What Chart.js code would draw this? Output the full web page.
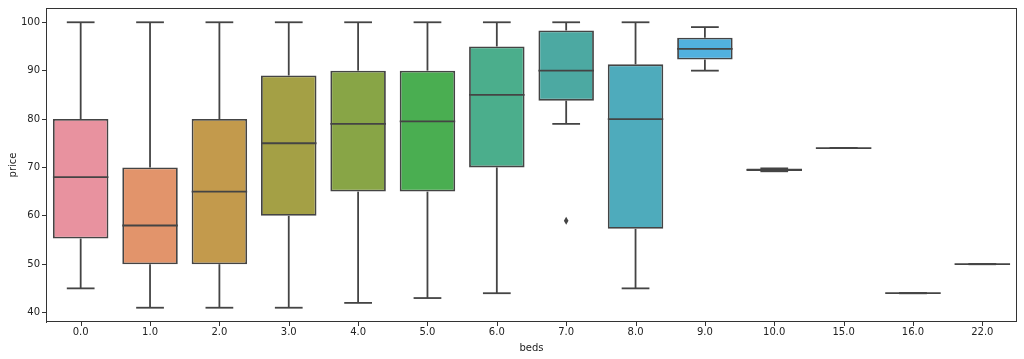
<!DOCTYPE html>
<html>
<head>
<meta charset="utf-8">
<script src="https://cdn.jsdelivr.net/npm/chart.js@4"></script>
<style>
  html, body { margin: 0; padding: 0; background: #fff; }
  #wrap { width: 1024px; height: 359px; }
</style>
</head>
<body>
<div id="wrap"><canvas id="boxChart"></canvas></div>
<script>
// box plot data
const beds = ['0.0', '1.0', '2.0', '3.0', '4.0', '5.0', '6.0', '7.0', '8.0', '9.0', '10.0', '15.0', '16.0', '22.0'];
const whiskerLow  = [45, 41, 41, 41, 42, 43, 44, 79, 45, 90, 69.2, 74, 44, 50];
const q1          = [55.3, 50, 50, 60, 65, 65, 70, 83.8, 57.3, 92.3, 69.25, 74, 44, 50];
const median      = [68, 58, 65, 75, 79, 79.5, 85, 90, 80, 94.5, 69.5, 74, 44, 50];
const q3          = [80, 70, 80, 89, 90, 90, 95, 98.3, 91.3, 96.8, 69.8, 74, 44, 50];
const whiskerHigh = [100, 100, 100, 100, 100, 100, 100, 100, 100, 99, 69.8, 74, 44, 50];
const outliers    = [[], [], [], [], [], [], [], [59], [], [], [], [], [], []];
const yTicks = [40, 50, 60, 70, 80, 90, 100];

const boxColors = ['#e8929f', '#e2946b', '#c39a4c', '#a4a045', '#88a546', '#4aae51', '#4bae8c',
  '#4ca9a2', '#4eabbc', '#51b1df', '#8e9fe6', '#b596e6', '#dc8ee0', '#e891c3'];
const lineColor = '#444';

const boxPlot = {
  id: 'boxPlot',
  afterDatasetsDraw(chart) {
    const ctx = chart.ctx;
    const x = chart.scales.x, y = chart.scales.y;
    const meta = chart.getDatasetMeta(0);
    const a = chart.chartArea;
    ctx.save();
    ctx.strokeStyle = lineColor;
    ctx.lineWidth = 1.8;
    const line = (x1, y1, x2, y2) => {
      ctx.beginPath(); ctx.moveTo(x1, y1); ctx.lineTo(x2, y2); ctx.stroke();
    };
    beds.forEach((b, i) => {
      const bar = meta.data[i];
      const cx = x.getPixelForValue(i);
      const half = bar.width / 2;
      // whiskers
      line(cx, y.getPixelForValue(q1[i]), cx, y.getPixelForValue(whiskerLow[i]));
      line(cx, y.getPixelForValue(q3[i]), cx, y.getPixelForValue(whiskerHigh[i]));
      // caps
      line(cx - half / 2, y.getPixelForValue(whiskerLow[i]), cx + half / 2, y.getPixelForValue(whiskerLow[i]));
      line(cx - half / 2, y.getPixelForValue(whiskerHigh[i]), cx + half / 2, y.getPixelForValue(whiskerHigh[i]));
      // median
      line(cx - half, y.getPixelForValue(median[i]), cx + half, y.getPixelForValue(median[i]));
      // outliers (thin diamonds)
      outliers[i].forEach(v => {
        const py = y.getPixelForValue(v);
        ctx.beginPath();
        ctx.moveTo(cx, py - 4); ctx.lineTo(cx + 2.3, py); ctx.lineTo(cx, py + 4); ctx.lineTo(cx - 2.3, py);
        ctx.closePath();
        ctx.fillStyle = lineColor;
        ctx.fill();
      });
    });
    // frame + x tick marks
    ctx.strokeStyle = '#333';
    ctx.lineWidth = 1;
    ctx.strokeRect(Math.round(a.left) + 0.5, Math.round(a.top) + 0.5, Math.round(a.right - a.left) - 1, Math.round(a.bottom - a.top) - 1);
    beds.forEach((b, i) => {
      const cx = Math.round(x.getPixelForValue(i)) + 0.5;
      line(cx, Math.round(a.bottom), cx, Math.round(a.bottom) + 4);
    });
    ctx.restore();
  }
};

new Chart(document.getElementById('boxChart'), {
  type: 'bar',
  data: {
    labels: beds,
    datasets: [{
      data: beds.map((b, i) => [q1[i], q3[i]]),
      backgroundColor: boxColors,
      borderColor: lineColor,
      borderWidth: 1.8,
      borderSkipped: false,
      categoryPercentage: 0.8,
      barPercentage: 1.0
    }]
  },
  options: {
    responsive: true,
    maintainAspectRatio: false,
    animation: false,
    layout: { padding: { top: 7, right: 7, left: 0, bottom: 0 } },
    plugins: { legend: { display: false }, tooltip: { enabled: false } },
    scales: {
      x: {
        offset: true,
        grid: { display: true, drawOnChartArea: false, drawTicks: true, tickLength: 4, color: 'rgba(0,0,0,0)' },
        border: { display: false },
        ticks: { color: '#222', font: { family: 'DejaVu Sans', size: 10 }, padding: 0, maxRotation: 0 },
        title: { display: true, text: 'beds', color: '#222', font: { family: 'DejaVu Sans', size: 10 }, padding: { top: 2, bottom: 5 } },
        afterFit(s) { s.height = 37; }
      },
      y: {
        min: 38.05,
        max: 102.95,
        afterBuildTicks(s) { s.ticks = yTicks.map(v => ({ value: v })); },
        grid: { display: true, drawOnChartArea: false, drawTicks: true, tickLength: 4, color: '#333' },
        border: { display: true, color: '#333' },
        ticks: { color: '#222', font: { family: 'DejaVu Sans', size: 10 }, padding: 2 },
        title: { display: true, text: 'price', color: '#222', font: { family: 'DejaVu Sans', size: 10 }, padding: { top: 7, bottom: 4 } },
        afterFit(s) { s.width = 46; }
      }
    }
  },
  plugins: [boxPlot]
});
</script>
</body>
</html>
